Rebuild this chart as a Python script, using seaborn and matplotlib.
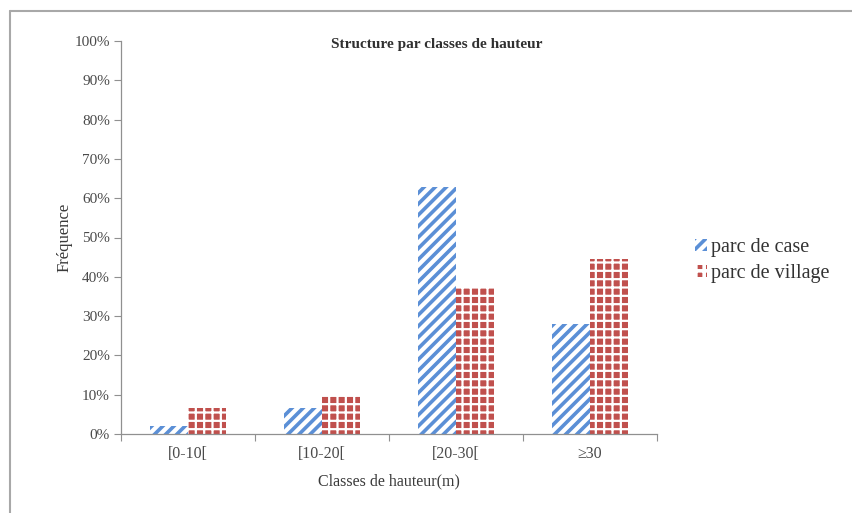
import matplotlib
matplotlib.use("Agg")
import pandas as pd
import matplotlib.pyplot as plt
import seaborn as sns
from matplotlib.patches import Patch
from matplotlib.lines import Line2D

# data (percent)
classes = ['[0-10[', '[10-20[', '[20-30[', '≥30']
parc_case = [2.1, 6.7, 62.9, 28.0]
parc_village = [6.5, 10.0, 37.4, 44.5]
series_names = ['parc de case', 'parc de village']
y_ticks = list(range(0, 101, 10))

df = pd.DataFrame({
    'classe': classes * 2,
    'freq': parc_case + parc_village,
    'parc': [series_names[0]] * len(classes) + [series_names[1]] * len(classes),
})

sns.set_style('white')
plt.rcParams['font.family'] = ['Liberation Serif', 'DejaVu Serif']
plt.rcParams['hatch.linewidth'] = 2.6

blue = '#5b8fd6'
red = '#c0504d'
grey_txt = '#4a4a4a'


def thin_hatch(patch, lw):
    # per-artist hatch width only exists in newer matplotlib
    if hasattr(patch, 'set_hatch_linewidth'):
        patch.set_hatch_linewidth(lw)


fig = plt.figure(figsize=(8.53, 5.13), dpi=100)
ax = fig.add_axes([121 / 853, 1 - 434 / 513, 536 / 853, 393 / 513])

sns.barplot(data=df, x='classe', y='freq', hue='parc', palette=[blue, red],
            width=0.57, saturation=1, legend=False, ax=ax)

# hatch patterns like the excel chart
for bar in ax.containers[0]:
    bar.set_facecolor('white')
    bar.set_edgecolor(blue)
    bar.set_linewidth(0)
    bar.set_hatch('///')
for bar in ax.containers[1]:
    bar.set_facecolor(red)
    bar.set_edgecolor('white')
    bar.set_linewidth(0)
    bar.set_hatch('++')
    thin_hatch(bar, 1.6)

ax.set_ylim(0, 100)
ax.set_yticks(y_ticks)
ax.set_yticklabels([f'{v}%' for v in y_ticks], fontsize=11, color=grey_txt)
ax.set_xlim(-0.5, len(classes) - 0.5)
ax.tick_params(axis='x', length=0, labelsize=11.5, labelcolor=grey_txt, pad=9)
ax.tick_params(axis='y', length=5, width=0.8, color='#909090', direction='out', left=True, pad=3)
# x ticks at category boundaries
ax.set_xticks([i - 0.5 for i in range(len(classes) + 1)], minor=True)
ax.tick_params(axis='x', which='minor', length=5, width=0.8, color='#909090', direction='out', bottom=True)

for side in ['top', 'right']:
    ax.spines[side].set_visible(False)
for side in ['left', 'bottom']:
    ax.spines[side].set_color('#909090')
    ax.spines[side].set_linewidth(0.9)

ax.set_xlabel('Classes de hauteur(m)', fontsize=11.5, color='#3a3a3a', labelpad=8)
ax.set_ylabel('Fréquence', fontsize=12, color='#3a3a3a', labelpad=1)
ax.text(0.59, 0.992, 'Structure par classes de hauteur', transform=ax.transAxes,
        ha='center', va='center', fontsize=11, fontweight='bold', color='#303030')

handles = [Patch(facecolor='white', edgecolor=blue, hatch='///', linewidth=0),
           Patch(facecolor=red, edgecolor='white', hatch='++', linewidth=0)]
thin_hatch(handles[1], 1.6)
fig.legend(handles, series_names, loc='upper left',
           bbox_to_anchor=(677 / 853, 1 - 220 / 513), frameon=False,
           fontsize=14.5, handlelength=0.6, handleheight=0.6,
           handletextpad=0.2, labelspacing=0.35, labelcolor='#333333')

# frame lines of the scanned chart (only top and left visible)
fig.add_artist(Line2D([10 / 853, 10 / 853], [0, 1 - 11 / 513], transform=fig.transFigure,
                      color='#a8a8a8', lw=1.5))
fig.add_artist(Line2D([10 / 853, 1], [1 - 11 / 513, 1 - 11 / 513], transform=fig.transFigure,
                      color='#a8a8a8', lw=1.5))

fig.savefig('out.png', dpi=100)
plt.close(fig)
